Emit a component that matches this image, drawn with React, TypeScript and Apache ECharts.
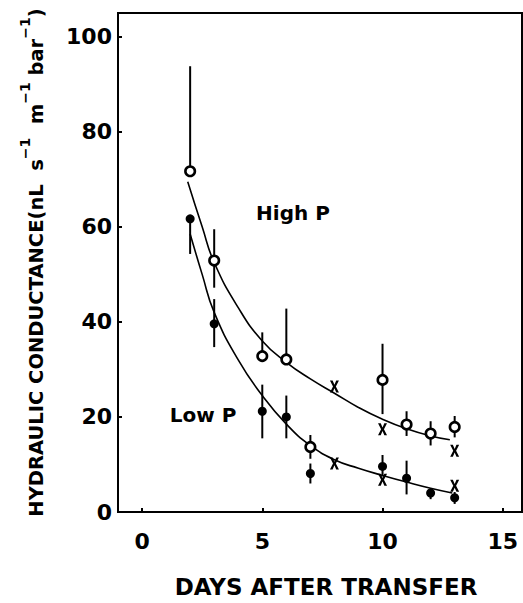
import React, { useEffect, useRef } from "react";
import * as echarts from "echarts";

// ---- data ----
const xTicks = [0, 5, 10, 15];
const yTicks = [0, 20, 40, 60, 80, 100];

const highDays = [2, 3, 5, 6, 7, 10, 11, 12, 13];
const highMean = [71.7, 52.9, 32.8, 32.1, 13.7, 27.8, 18.4, 16.5, 17.9];
const highUpper = [93.8, 59.5, 37.8, 42.8, 16.2, 35.4, 21.2, 19.1, 20.2];
const highLower = [71.7, 47.2, 32.8, 32.1, 11.2, 20.6, 16.0, 14.0, 15.7];

const lowDays = [2, 3, 5, 6, 7, 10, 11, 12, 13];
const lowMean = [61.7, 39.6, 21.2, 20.0, 8.1, 9.6, 7.1, 4.0, 3.0];
const lowUpper = [61.7, 44.8, 26.8, 24.5, 10.2, 12.0, 10.8, 5.0, 4.2];
const lowLower = [54.3, 34.7, 15.5, 15.5, 6.0, 7.5, 3.7, 2.7, 1.7];

const highXMarks = [
  [8, 26.4],
  [10, 17.4],
  [13, 12.9],
];
const lowXMarks = [
  [8, 10.2],
  [10, 6.8],
  [13, 5.5],
];

const highCurve = [
  [1.9, 69.5], [2.5, 60], [3, 52.5], [4, 43], [5, 36], [6, 31.5], [7, 28],
  [8, 25], [9, 22], [10, 19.5], [11, 17.5], [12, 16], [12.8, 15.2],
];
const lowCurve = [
  [2, 58.5], [2.5, 50], [3, 42], [4, 32], [5, 24.5], [6, 18.5], [7, 14],
  [8, 11], [9, 9.2], [10, 7.7], [11, 6.3], [12, 5], [12.9, 4],
];

const FONT = "DejaVu Sans";
const X_PATH =
  "path://M0,0 L3,0 L5,4.2 L7,0 L10,0 L6.6,6 L10,12 L7,12 L5,7.8 L3,12 L0,12 L3.4,6 Z";

function errorSeries(days: number[], lo: number[], hi: number[]) {
  return {
    type: "custom",
    z: 1,
    silent: true,
    data: days.map((d, i) => [d, lo[i], hi[i]]),
    encode: { x: 0, y: [1, 2] },
    renderItem: (params: any, api: any) => {
      const p1 = api.coord([api.value(0), api.value(1)]);
      const p2 = api.coord([api.value(0), api.value(2)]);
      return {
        type: "line",
        shape: { x1: p1[0], y1: p1[1], x2: p2[0], y2: p2[1] },
        style: { stroke: "#000", lineWidth: 2 },
      };
    },
  };
}

export default function App() {
  const ref = useRef<HTMLDivElement>(null);
  useEffect(() => {
    if (!ref.current) return;
    const chart = echarts.init(ref.current, null, { renderer: "svg" });
    const axisLabelStyle = {
      fontFamily: FONT,
      fontWeight: "bold",
      fontSize: 22,
      color: "#000",
    };
    chart.setOption({
      animation: false,
      backgroundColor: "#fff",
      grid: {
        left: 118,
        top: 13,
        right: 1,
        bottom: 86,
        show: true,
        borderColor: "#000",
        borderWidth: 2,
      },
      xAxis: {
        type: "value",
        min: -1,
        max: 15.8,
        name: "DAYS AFTER TRANSFER",
        nameLocation: "middle",
        nameGap: 63,
        nameTextStyle: {
          fontFamily: FONT,
          fontWeight: "bold",
          fontSize: 23,
          color: "#000",
          padding: [0, 0, 0, 12],
        },
        axisLine: { onZero: false, lineStyle: { color: "#000", width: 2 } },
        axisTick: {
          inside: true,
          length: 4,
          lineStyle: { color: "#000", width: 2 },
          customValues: xTicks,
        },
        axisLabel: { ...axisLabelStyle, margin: 18, customValues: xTicks },
        splitLine: { show: false },
      },
      yAxis: {
        type: "value",
        min: 0,
        max: 105,
        name:
          "{m|HYDRAULIC CONDUCTANCE(nL  s}{s|−1}{m|  m}{s|−1}{m| bar}{s|−1}{m|)}",
        nameLocation: "middle",
        nameRotate: 90,
        nameGap: 72,
        nameTextStyle: {
          rich: {
            m: {
              fontFamily: FONT,
              fontWeight: "bold",
              fontSize: 19.5,
              color: "#000",
              verticalAlign: "bottom",
              lineHeight: 28,
            },
            s: {
              fontFamily: FONT,
              fontWeight: "bold",
              fontSize: 14,
              color: "#000",
              verticalAlign: "top",
              lineHeight: 28,
            },
          },
        },
        axisLine: { onZero: false, lineStyle: { color: "#000", width: 2 } },
        axisTick: {
          inside: true,
          length: 4,
          lineStyle: { color: "#000", width: 2 },
          customValues: yTicks,
        },
        axisLabel: { ...axisLabelStyle, margin: 6, customValues: yTicks },
        splitLine: { show: false },
      },
      graphic: [
        {
          type: "text",
          x: 293,
          y: 213,
          style: {
            text: "High P",
            fontFamily: FONT,
            fontWeight: "bold",
            fontSize: 20,
            fill: "#000",
            align: "center",
            verticalAlign: "middle",
          },
        },
        {
          type: "text",
          x: 203,
          y: 415,
          style: {
            text: "Low P",
            fontFamily: FONT,
            fontWeight: "bold",
            fontSize: 20,
            fill: "#000",
            align: "center",
            verticalAlign: "middle",
          },
        },
      ],
      series: [
        errorSeries(highDays, highLower, highUpper),
        errorSeries(lowDays, lowLower, lowUpper),
        {
          type: "line",
          z: 2,
          smooth: true,
          symbol: "none",
          data: highCurve,
          lineStyle: { color: "#000", width: 1.6 },
        },
        {
          type: "line",
          z: 2,
          smooth: true,
          symbol: "none",
          data: lowCurve,
          lineStyle: { color: "#000", width: 1.6 },
        },
        {
          type: "scatter",
          z: 4,
          symbol: "circle",
          symbolSize: 9,
          data: lowDays.map((d, i) => [d, lowMean[i]]),
          itemStyle: { color: "#000", opacity: 1 },
        },
        {
          type: "scatter",
          z: 5,
          symbol: "circle",
          symbolSize: 9.5,
          data: highDays.map((d, i) => [d, highMean[i]]),
          itemStyle: {
            color: "#fff",
            borderColor: "#000",
            borderWidth: 2.6,
            opacity: 1,
          },
        },
        {
          type: "scatter",
          z: 4,
          symbol: X_PATH,
          symbolSize: [9, 12],
          data: [...highXMarks, ...lowXMarks],
          itemStyle: { color: "#000", opacity: 1 },
        },
      ],
    });
    return () => chart.dispose();
  }, []);
  return (
    <div
      ref={ref}
      style={{ position: "fixed", left: 0, top: 0, width: 523, height: 603 }}
    />
  );
}
